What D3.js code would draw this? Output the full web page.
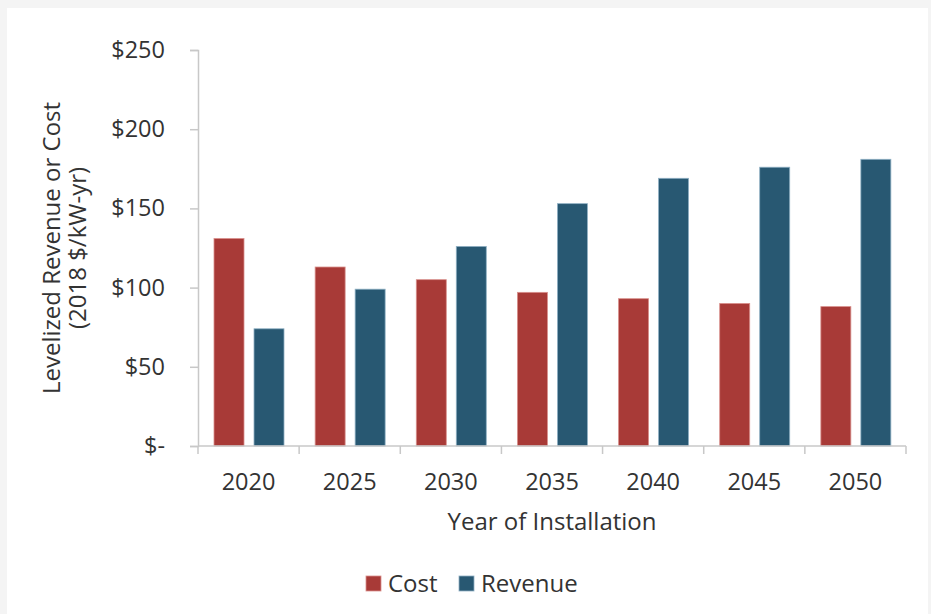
<!DOCTYPE html>
<html>
<head>
<meta charset="utf-8">
<script src="https://cdn.jsdelivr.net/npm/d3@7/dist/d3.min.js"></script>
<style>
  html, body { margin: 0; padding: 0; background: #f4f4f4; }
  svg { display: block; }
  text { font-family: "Open Sans", "Noto Sans", sans-serif; fill: #333; }
</style>
</head>
<body>
<svg id="chart" width="931" height="614"></svg>
<script>
const years = ["2020", "2025", "2030", "2035", "2040", "2045", "2050"];
const seriesNames = ["Cost", "Revenue"];
const costValues = [131, 113, 105, 97, 93, 90, 88];
const revenueValues = [74, 99, 126, 153, 169, 176, 181];
const yTickValues = [0, 50, 100, 150, 200, 250];
const colors = { Cost: "#a83a37", Revenue: "#285872" };
const strokes = { Cost: "#d9908c", Revenue: "#8fb0c4" };

(function () {
const svg = d3.select("#chart");
svg.append("rect").attr("x", 7).attr("y", 8).attr("width", 921).attr("height", 606).attr("fill", "#ffffff");

const mLeft = 198, mRight = 906, mTop = 50, mBottom = 446;
const fs = 24;

const x0 = d3.scaleBand().domain(years).range([mLeft, mRight]).paddingInner(0).paddingOuter(0);
const x1 = d3.scaleBand().domain(seriesNames).range([16, 86]).paddingInner(0.25).paddingOuter(0);
const y = d3.scaleLinear().domain([0, 250]).range([mBottom, mTop]);

const data = years.map((yr, i) => ({ year: yr, Cost: costValues[i], Revenue: revenueValues[i] }));

// bars
const groups = svg.append("g").selectAll("g").data(data).join("g")
  .attr("transform", d => `translate(${x0(d.year)},0)`);
groups.selectAll("rect").data(d => seriesNames.map(s => ({ key: s, value: d[s] }))).join("rect")
  .attr("x", d => x1(d.key))
  .attr("width", x1.bandwidth())
  .attr("y", d => y(d.value))
  .attr("height", d => y(0) - y(d.value))
  .attr("fill", d => colors[d.key])
  .attr("stroke", d => strokes[d.key])
  .attr("stroke-width", 0.8);

// y axis
const yAxis = svg.append("g").attr("transform", `translate(${mLeft},0)`)
  .call(d3.axisLeft(y).tickValues(yTickValues).tickSize(8).tickPadding(25)
    .tickFormat(d => d === 0 ? "$-" : "$" + d));
yAxis.select(".domain").attr("stroke", "#c8c8c8").attr("stroke-width", 1.5);
yAxis.selectAll(".tick line").attr("stroke", "#c8c8c8").attr("stroke-width", 1.5);
yAxis.selectAll(".tick text").attr("font-size", 23.5).attr("fill", "#333")
  .attr("font-family", "'Open Sans', sans-serif");

// x axis (category boundaries as ticks)
const xAxis = svg.append("g");
const xEnd = x0(years[years.length - 1]) + x0.bandwidth();
xAxis.append("line").attr("x1", mLeft).attr("x2", xEnd)
  .attr("y1", mBottom).attr("y2", mBottom).attr("stroke", "#c8c8c8").attr("stroke-width", 1.5);
const boundaries = years.map(yr => x0(yr)).concat([xEnd]);
xAxis.selectAll("line.tick").data(boundaries).join("line").attr("class", "tick")
  .attr("x1", d => d).attr("x2", d => d).attr("y1", mBottom).attr("y2", mBottom + 8)
  .attr("stroke", "#c8c8c8").attr("stroke-width", 1.5);
xAxis.selectAll("text").data(years).join("text")
  .attr("x", d => x0(d) + x0.bandwidth() / 2)
  .attr("y", 490)
  .attr("text-anchor", "middle")
  .attr("font-size", 23.5)
  .text(d => d);

// axis titles
svg.append("text").attr("x", 552).attr("y", 530).attr("text-anchor", "middle")
  .attr("font-size", fs).text("Year of Installation");
const yt = svg.append("text").attr("transform", "translate(60,248) rotate(-90)")
  .attr("text-anchor", "middle").attr("font-size", fs);
yt.append("tspan").attr("x", 0).attr("dy", 0).text("Levelized Revenue or Cost");
yt.append("tspan").attr("x", 0).attr("dy", 26).text("(2018 $/kW-yr)");

// legend
const legendItems = [{ key: "Cost", x: 366 }, { key: "Revenue", x: 459 }];
const lg = svg.append("g").selectAll("g").data(legendItems).join("g")
  .attr("transform", d => `translate(${d.x},576)`);
lg.append("rect").attr("width", 15).attr("height", 15)
  .attr("fill", d => colors[d.key]).attr("stroke", d => strokes[d.key]).attr("stroke-width", 0.8);
lg.append("text").attr("x", 22).attr("y", 15.5).attr("font-size", fs).text(d => d.key);
})();
</script>
</body>
</html>
